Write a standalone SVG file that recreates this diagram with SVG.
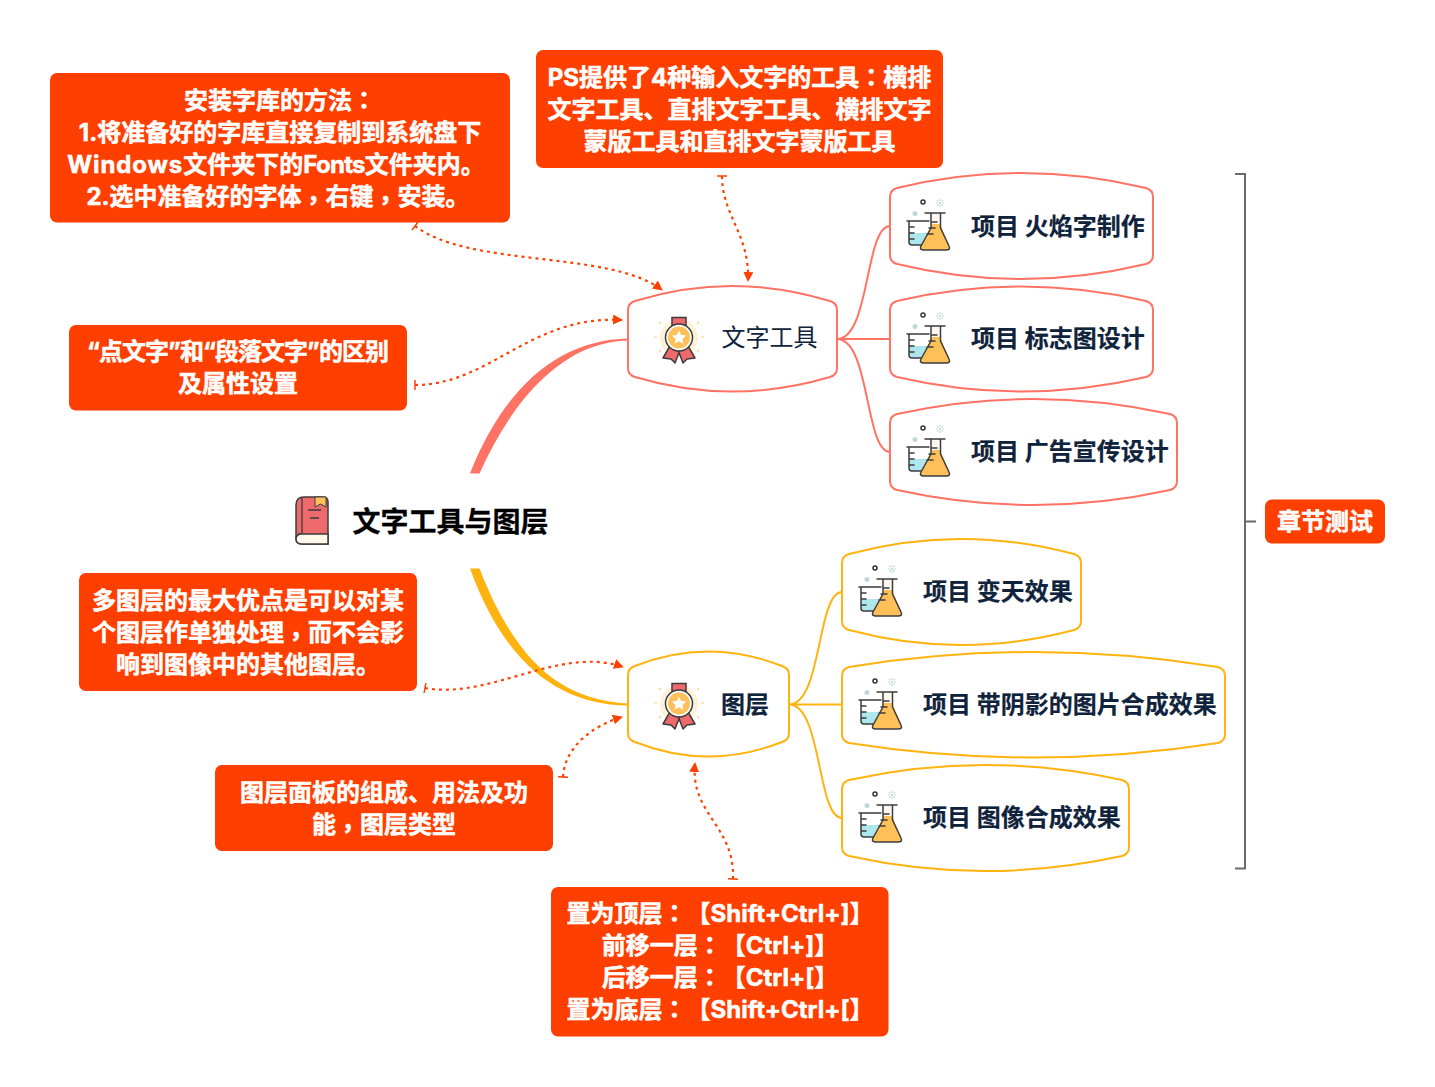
<svg xmlns="http://www.w3.org/2000/svg" width="1435" height="1087" viewBox="0 0 1435 1087">
<style>
text{font-family:"Inter","Noto Sans CJK SC",sans-serif;font-size:24px;text-spacing-trim:space-all}
.b rect{fill:#ff3f00}
.b text{fill:#fff;font-weight:700;text-anchor:middle;stroke:#fff;stroke-width:.5}
.c{font-family:"Noto Sans CJK TC",sans-serif}
.w{letter-spacing:.9px}
.f{letter-spacing:-.7px}
.i{fill:#10233c;font-weight:700;stroke:#10233c;stroke-width:.2}
.red{fill:#fff;stroke:#ff7264;stroke-width:2}
.yel{fill:#fff;stroke:#ffb30f;stroke-width:2}
.lr{fill:none;stroke:#ff7264;stroke-width:2}
.ly{fill:none;stroke:#ffb30f;stroke-width:2}
.rel{fill:none;stroke:#ff4000;stroke-width:2.2;stroke-dasharray:3 4;marker-start:url(#tb);marker-end:url(#ar)}
.k{fill:none;stroke:#3c3c3c;stroke-width:1.5;stroke-linejoin:round;stroke-linecap:round}
</style>
<defs>
<marker id="ar" markerUnits="userSpaceOnUse" markerWidth="12" markerHeight="12" refX="9" refY="5" orient="auto"><path d="M0 0L10 5L0 10Z" fill="#ff4000"/></marker>
<marker id="tb" markerUnits="userSpaceOnUse" markerWidth="4" markerHeight="12" refX="1" refY="5" orient="auto"><path d="M1 0V10" stroke="#ff4000" stroke-width="1.5" fill="none"/></marker>
<g id="flask">
<circle cx="923" cy="202" r="2" fill="none" stroke="#333" stroke-width="1.5"/>
<g stroke="#c5dadd" stroke-width="1.2"><path d="M940 199v8M936 203h8M937 200l6 6M943 200l-6 6" stroke-dasharray="2 1"/></g>
<circle cx="915" cy="213.500" r="2.500" fill="#c3d5da"/>
<path d="M909 221H927V245H912Q909 245 909 242Z" fill="#fff"/>
<path d="M909 233H930L922 245H912Q909 245 909 242Z" fill="#aee6ee"/>
<path class="k" d="M907 221H929M909 221V242Q909 245 912 245H923M909 227h5M909 233h5M909 239h5"/>
<path d="M931 213H941V228L949 246Q950 250 946 250H924Q920 250 921 246L931 228Z" fill="#fff8f0"/>
<path d="M932 224H940L949 246Q950 250 946 250H924Q920 250 921 246Z" fill="#ffc05a"/>
<path class="k" d="M925 213H945M931 213V228L921 246Q919 250 924 250H946Q951 250 949 246L940.500 228V213M931 222h6M929 228h6M927 234h6"/>
</g>
<g id="medal">
<circle cx="679" cy="338" r="19" fill="#fff0d8"/>
<g stroke="#ffd27a" stroke-width="1.200"><path d="M654 337h3M701 337h3M659 322l2 2M699 322l-2 2M659 352l2-2M699 352l-2-2"/></g>
<path d="M672 317.500H686V328H672Z" fill="#ee6a6d" stroke="#3c3c3c" stroke-width="1.500"/>
<path d="M670 346L663 358L671 359L675 363L680 350ZM688 346L695 358L687 359L683 363L678 350Z" fill="#ee6a6d" stroke="#3c3c3c" stroke-width="1.500" stroke-linejoin="round"/>
<circle cx="679" cy="337.500" r="13.500" fill="#fff" stroke="#3c3c3c" stroke-width="1.500"/>
<circle cx="679" cy="337.500" r="11" fill="#ffc05a"/>
<path d="M679 330.500l2.100 4.600 5 .5-3.700 3.300 1 4.900-4.400-2.500-4.400 2.500 1-4.900-3.700-3.300 5-.5z" fill="#fff"/>
</g>
</defs>
<rect width="1435" height="1087" fill="#fff"/>

<g id="connectors">
<path d="M628 338.500C560 340 505 385 470 473.500H479.500C515 395 565 342 628 340.500Z" fill="#ff7264"/>
<path d="M628 703.500C560 700 515 660 479.500 568.500H470C505 665 560 705 628 705.500Z" fill="#ffb30f"/>
<path class="lr" d="M837 339C870 339 865 226 890 226M837 339H890M837 339C870 339 865 452 890 452"/>
<path class="ly" d="M789 704.500C822 704.500 817 592 842 592M789 704.500H842M789 704.500C822 704.500 817 818 842 818"/>
<path class="rel" d="M415 226C470 268 610 250 662 290"/>
<path class="rel" d="M415 385C490 385 530 315 622 320"/>
<path class="rel" d="M722 176C722 215 750 235 748 281"/>
<path class="rel" d="M425 688C490 700 560 645 623 667"/>
<path class="rel" d="M563 777C565 745 595 725 622 717"/>
<path class="rel" d="M733 879C735 825 690 815 695 763"/>
<path d="M1235 174H1245V868.500H1235M1245 521.500H1256" fill="none" stroke="#6a6a6a" stroke-width="2"/>
</g>

<g id="root">
<path d="M304 497H323Q328 497 328 502V544H302Q296 544 296 538V505Q296 497 304 497Z" fill="#ee6a6d" stroke="#3c3c3c" stroke-width="1.500"/>
<path d="M298 534H328V544H302Q296 544 296 539Q296 534 302 534Z" fill="#fff8ea" stroke="#3c3c3c" stroke-width="1.500"/>
<path d="M315 497H326V507L320.500 504L315 507Z" fill="#ffc05a" stroke="#3c3c3c" stroke-width="1"/>
<path d="M302 498V534M308 510h13M310 518h9" stroke="#3c3c3c" stroke-width="1.300" fill="none"/>
<text x="352.500" y="532" style="font-size:28px;font-weight:700;stroke:#000;stroke-width:.3" fill="#000">文字工具与图层</text>
</g>

<g id="t1"><path class="red" d="M628 310Q628 303 635 301Q732 271 830 301Q837 303 837 310V368Q837 375 830 377Q732 406 635 377Q628 375 628 368Z"/><use href="#medal"/><text x="721.500" y="345.500" fill="#10233c">文字工具</text></g>
<g id="t2"><path class="yel" d="M628 675Q628 668 635 666Q708 637 782 666Q789 668 789 675V733Q789 740 782 742Q708 771 635 742Q628 740 628 733Z"/><use href="#medal" y="366"/><text class="i" x="721" y="712.500">图层</text></g>

<g id="n1"><path class="red" d="M890 197Q890 190 897 188Q1021 158 1146 188Q1153 190 1153 197V255Q1153 262 1146 264Q1021 294 897 264Q890 262 890 255Z"/><use href="#flask"/><text class="i" x="971" y="234.500">项目 火焰字制作</text></g>
<g id="n2"><path class="red" d="M890 310Q890 303 897 301Q1021 272 1146 301Q1153 303 1153 310V368Q1153 375 1146 377Q1021 406 897 377Q890 375 890 368Z"/><use href="#flask" y="113"/><text class="i" x="971" y="347">项目 标志图设计</text></g>
<g id="n3"><path class="red" d="M890 423Q890 416 897 414Q1033 384 1170 414Q1177 416 1177 423V481Q1177 488 1170 490Q1033 520 897 490Q890 488 890 481Z"/><use href="#flask" y="226"/><text class="i" x="971" y="460">项目 广告宣传设计</text></g>
<g id="n4"><path class="yel" d="M842 563Q842 556 849 554Q961 524 1074 554Q1081 556 1081 563V621Q1081 628 1074 630Q961 660 849 630Q842 628 842 621Z"/><use href="#flask" x="-48" y="366"/><text class="i" x="923" y="600">项目 变天效果</text></g>
<g id="n5"><path class="yel" d="M842 676Q842 669 849 667Q1033 637 1218 667Q1225 669 1225 676V734Q1225 741 1218 743Q1033 772 849 743Q842 741 842 734Z"/><use href="#flask" x="-48" y="479"/><text class="i" x="923" y="713">项目 带阴影的图片合成效果</text></g>
<g id="n6"><path class="yel" d="M842 789Q842 782 849 780Q985 750 1122 780Q1129 782 1129 789V847Q1129 854 1122 856Q985 886 849 856Q842 854 842 847Z"/><use href="#flask" x="-48" y="592"/><text class="i" x="923" y="826">项目 图像合成效果</text></g>

<g id="s1" class="b"><rect x="50" y="73" width="460" height="149.500" rx="7"/>
<text x="280" y="108.500">安装字库的方法<tspan class="c">：</tspan></text>
<text x="280" y="140.500">1.将准备好的字库直接复制到系统盘下</text>
<text x="276" y="172.500"><tspan class="w">Windows</tspan>文件夹下的<tspan class="f">Fonts</tspan>文件夹内。</text>
<text x="278" y="204.500">2.选中准备好的字体<tspan class="c" dy="4">，</tspan><tspan dy="-4">右键</tspan><tspan class="c" dy="4">，</tspan><tspan dy="-4">安装。</tspan></text></g>
<g id="s2" class="b"><rect x="536" y="50" width="407" height="118" rx="7"/>
<text x="739.500" y="85.500">PS提供了4种输入文字的工具<tspan class="c">：</tspan>横排</text>
<text x="739.500" y="117.500">文字工具、直排文字工具、横排文字</text>
<text x="739.500" y="149.500">蒙版工具和直排文字蒙版工具</text></g>
<g id="s3" class="b"><rect x="69" y="325" width="338" height="85.500" rx="7"/>
<text x="238" y="359.500" textLength="302">“点文字”和“段落文字”的区别</text>
<text x="238" y="391.500">及属性设置</text></g>
<g id="s4" class="b"><rect x="79" y="573" width="338" height="118" rx="7"/>
<text x="248" y="608.500">多图层的最大优点是可以对某</text>
<text x="248" y="640.500">个图层作单独处理<tspan class="c" dy="4">，</tspan><tspan dy="-4">而不会影</tspan></text>
<text x="248" y="672.500">响到图像中的其他图层。</text></g>
<g id="s5" class="b"><rect x="215" y="765" width="338" height="86" rx="7"/>
<text x="384" y="800.500">图层面板的组成、用法及功</text>
<text x="384" y="832.500">能<tspan class="c" dy="4">，</tspan><tspan dy="-4">图层类型</tspan></text></g>
<g id="s6" class="b"><rect x="551" y="887" width="337.500" height="149.500" rx="7"/>
<text x="720" y="921.500">置为顶层<tspan class="c">：</tspan>【Shift+Ctrl+]】</text>
<text x="720" y="953.500">前移一层<tspan class="c">：</tspan>【Ctrl+]】</text>
<text x="720" y="985.500">后移一层<tspan class="c">：</tspan>【Ctrl+[】</text>
<text x="720" y="1017.500">置为底层<tspan class="c">：</tspan>【Shift+Ctrl+[】</text></g>
<g id="quiz" class="b"><rect x="1265" y="499.500" width="120" height="44" rx="7"/><text x="1325" y="529.500">章节测试</text></g>
</svg>
